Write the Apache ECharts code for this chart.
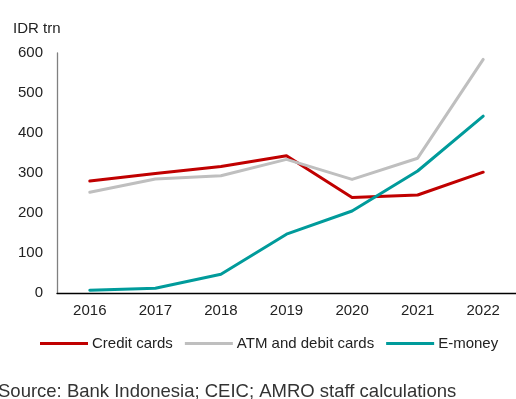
<!DOCTYPE html>
<html>
<head>
<meta charset="utf-8">
<script src="https://cdn.jsdelivr.net/npm/echarts@6/dist/echarts.min.js"></script>
<style>
  html, body { margin: 0; padding: 0; background: #fff; }
  #chart { width: 516px; height: 399px; }
</style>
</head>
<body>
<div id="chart"></div>
<script>
// Payment transaction values in Indonesia, IDR trillion
const years = ['2016', '2017', '2018', '2019', '2020', '2021', '2022'];
const creditCards = [280, 299, 316, 343, 239, 245, 302];
const atmDebitCards = [252, 285, 293, 334, 284, 337, 584];
const eMoney = [7, 12, 47, 147, 205, 305, 442];
const yTicks = [0, 100, 200, 300, 400, 500, 600];

const FONT = '"Liberation Sans", Arial, sans-serif';
const TEXT = '#222222';

const chart = echarts.init(document.getElementById('chart'), null, { renderer: 'canvas' });

function lineSeries(name, data, color) {
  return {
    name: name,
    type: 'line',
    data: data,
    symbol: 'none',
    smooth: false,
    lineStyle: { color: color, width: 3, cap: 'round', join: 'round' },
    itemStyle: { color: color },
    emphasis: { disabled: true }
  };
}

chart.setOption({
  animation: false,
  backgroundColor: '#ffffff',
  textStyle: { fontFamily: FONT },
  title: {
    text: 'IDR trn',
    left: 13,
    top: 21,
    padding: 0,
    textStyle: { fontFamily: FONT, fontSize: 15, fontWeight: 'normal', color: TEXT }
  },
  grid: { left: 57, right: -9, top: 53, bottom: 106, containLabel: false },
  xAxis: {
    type: 'category',
    data: years,
    boundaryGap: true,
    axisLine: { lineStyle: { color: '#000000', width: 1.3 } },
    axisTick: { show: false },
    axisLabel: { fontFamily: FONT, fontSize: 15, color: TEXT, margin: 10 },
    splitLine: { show: false }
  },
  yAxis: {
    type: 'value',
    min: yTicks[0],
    max: yTicks[yTicks.length - 1],
    interval: 100,
    axisLine: { show: true, lineStyle: { color: '#808080', width: 1.3 } },
    axisTick: { show: false },
    axisLabel: { fontFamily: FONT, fontSize: 15, color: TEXT, margin: 14 },
    splitLine: { show: false }
  },
  legend: {
    left: 40,
    top: 336,
    padding: 0,
    itemWidth: 48,
    itemHeight: 3,
    itemGap: 12,
    icon: 'rect',
    textStyle: { fontFamily: FONT, fontSize: 15, color: TEXT, padding: [0, 0, 0, -1] },
    data: ['Credit cards', 'ATM and debit cards', 'E-money']
  },
  graphic: [{
    type: 'text',
    left: -2,
    top: 382,
    style: {
      text: 'Source: Bank Indonesia; CEIC; AMRO staff calculations',
      font: '18.5px "Liberation Sans", Arial, sans-serif',
      fill: '#333333'
    }
  }],
  series: [
    lineSeries('Credit cards', creditCards, '#C00000'),
    lineSeries('ATM and debit cards', atmDebitCards, '#BFBFBF'),
    lineSeries('E-money', eMoney, '#009B9B')
  ]
});
</script>
</body>
</html>
